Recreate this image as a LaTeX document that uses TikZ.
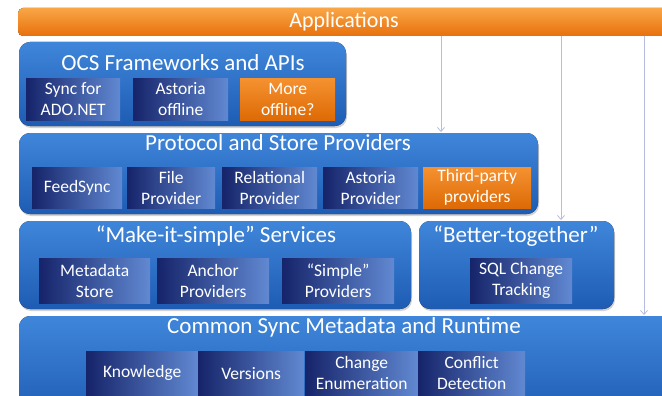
\documentclass[tikz,border=0pt]{standalone}
\usepackage{fontspec}
\setmainfont{Carlito}
\usetikzlibrary{arrows.meta,calc,positioning}

\definecolor{appTop}{HTML}{F9A646}
\definecolor{appBot}{HTML}{E8700C}
\definecolor{boxTop}{HTML}{3F86DA}
\definecolor{boxBot}{HTML}{1E5CB3}
\definecolor{partDark}{HTML}{16246A}
\definecolor{partLight}{HTML}{6189D2}
\definecolor{orTop}{HTML}{F59230}
\definecolor{orBot}{HTML}{DD6A06}
\definecolor{flowCol}{HTML}{B7BDE0}

\tikzset{
    layer/.style={rounded corners=11pt, top color=boxTop, bottom color=boxBot, draw=none},
    title/.style={text=white, font=\fontsize{23}{25}\selectfont},
    part/.style={anchor=north west, inner sep=0pt, left color=partDark, right color=partLight,
        text=white, align=center, font=\fontsize{17.5}{21}\selectfont},
    extra/.style={part, top color=orTop, bottom color=orBot},
    flow/.style={draw=flowCol, line width=0.8pt, -{Straight Barb[length=4pt,width=7pt]}}
}

\begin{document}
\begin{tikzpicture}[x=1pt, y=-1pt]
    \useasboundingbox (0,0) rectangle (662,396);
    \clip (0,0) rectangle (662,396);
    \fill[white] (0,0) rectangle (662,396);

    % applications
    \fill[rounded corners=5pt, top color=appTop, bottom color=appBot] (18,8) rectangle (680,36);
    \node[text=white, font=\fontsize{22}{24}\selectfont] (apps) at (344,22) {Applications};
    \coordinate (appsbar) at (344,36);

    % layers
    \fill[black!35, opacity=0.5, rounded corners=11pt] (20,45) rectangle (347,128);
    \fill[black!35, opacity=0.5, rounded corners=11pt] (20,136) rectangle (539,216);
    \fill[black!35, opacity=0.5, rounded corners=11pt] (20,224) rectangle (412,311);
    \fill[black!35, opacity=0.5, rounded corners=11pt] (420,224) rectangle (615,311);
    \fill[layer] (19,42) rectangle (346,126);
    \fill[layer] (19,133) rectangle (538,214);
    \fill[layer] (19,221) rectangle (411,309);
    \fill[layer] (419,221) rectangle (614,309);
    \fill[layer] (19,316) rectangle (690,420);

    \node[title] (ocs) at (183,63) {OCS Frameworks and APIs};
    \node[title] (prot) at (278,143) {Protocol and Store Providers};
    \node[title] (simple) at (216,236) {“Make-it-simple” Services};
    \node[title] (better) at (516,236) {“Better-together”};
    \node[title] (common) at (344,327) {Common Sync Metadata and Runtime};

    % OCS frameworks
    \node[part, minimum width=94pt, minimum height=42pt] (sync) at (26,78) {Sync for\\ADO.NET};
    \node[part, minimum width=95pt, minimum height=42pt] (astoff) at (133,78) {Astoria\\offline};
    \node[extra, minimum width=95pt, minimum height=42pt] (more) at (240,78) {More\\offline?};

    % providers
    \node[part, minimum width=90pt, minimum height=41pt] (feed) at (32,167) {FeedSync};
    \node[part, minimum width=88pt, minimum height=41pt] (file) at (127,167) {File\\Provider};
    \node[part, minimum width=95pt, minimum height=41pt] (rel) at (222,167) {Relational\\Provider};
    \node[part, minimum width=95pt, minimum height=41pt] (astprov) at (323,167) {Astoria\\Provider};
    \node[extra, minimum width=108pt, minimum height=41pt] (third) at (423,167) {Third-party\\providers};

    % services
    \node[part, minimum width=111pt, minimum height=45pt] (meta) at (39,258) {Metadata\\Store};
    \node[part, minimum width=112pt, minimum height=45pt] (anchor) at (157,258) {Anchor\\Providers};
    \node[part, minimum width=112pt, minimum height=45pt] (simp) at (282,258) {“Simple”\\Providers};
    \node[part, minimum width=102pt, minimum height=45pt] (sql) at (470,258) {SQL Change\\Tracking};

    % runtime
    \node[part, minimum width=112pt, minimum height=44pt] (know) at (86,351) {Knowledge};
    \node[part, minimum width=106pt, minimum height=44pt] (vers) at (198,351) {Versions};
    \node[part, minimum width=113pt, minimum height=44pt] (enum) at (305,351) {Change\\Enumeration};
    \node[part, minimum width=107pt, minimum height=44pt] (confl) at (418,351) {Conflict\\Detection};

    % calls from applications
    \coordinate (c1) at (441,0);
    \coordinate (c2) at (561,0);
    \coordinate (c3) at (644,0);
    \coordinate (protTop) at (0,132);
    \coordinate (betterTop) at (0,220);
    \coordinate (commonTop) at (0,315);
    \draw[flow] (appsbar -| c1) -- (protTop -| c1);
    \draw[flow] (appsbar -| c2) -- (betterTop -| c2);
    \draw[flow] (appsbar -| c3) -- (commonTop -| c3);
\end{tikzpicture}
\end{document}
